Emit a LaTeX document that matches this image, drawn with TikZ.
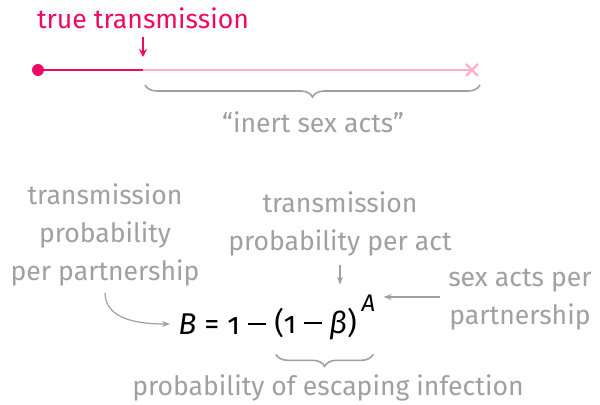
\documentclass[tikz,border=0pt]{standalone}
\usepackage{fontspec}
\setmainfont{Fira Sans}
\newfontfamily\eqfont[Numbers=OldStyle]{Fira Sans}
\usetikzlibrary{arrows.meta, calc, decorations.pathreplacing, positioning}
\definecolor{mypink}{RGB}{238, 10, 100}
\definecolor{mylightpink}{RGB}{255, 175, 200}
\definecolor{mygray}{RGB}{160, 160, 160}
\newcommand{\eqminus}{\hspace{0.25em}\raisebox{0.3em}{\rule{0.6em}{0.07em}}\hspace{0.25em}}

\tikzset{
  lbl/.style={mygray, font=\fontsize{13.3}{19}\selectfont, align=center, inner sep=0pt},
  conn/.style={mygray, line width=0.6pt, -{Stealth[length=4pt, width=3pt]}},
  brc/.style={mygray, line width=0.8pt, decorate, decoration={brace, mirror, amplitude=6pt}}
}

\begin{document}
\begin{tikzpicture}[x=0.5pt, y=-0.5pt]
\useasboundingbox (0,0) rectangle (600,405);
% Timeline
\node[mypink, font=\fontsize{13.3}{15}\selectfont, inner sep=0pt] (truetr) at (143,18) {true transmission};
\coordinate (start) at (38,70);
\coordinate (hit) at (143,70);
\coordinate (stop) at (472,70);
\draw[mylightpink, line width=1.3pt] (hit) -- (stop);
\draw[mypink, line width=1.3pt] (start) -- (hit);
\fill[mypink] (start) circle (3pt);
\draw[mylightpink, line width=1.1pt] ($(stop)+(-6,-6)$) -- ($(stop)+(6,6)$)
    ($(stop)+(-6,6)$) -- ($(stop)+(6,-6)$);
\draw[mypink, line width=0.8pt, -{Stealth[length=4pt, width=4pt]}] (truetr.south -| hit) ++(0,8) -- ($(hit)+(0,-13)$);
% Inert acts
\coordinate (inl) at (145,85);
\coordinate (inr) at (480,85);
\draw[brc] (inl) -- (inr);
\node[lbl] (inert) at (313,122) {“inert sex acts”};
% Formula
\node[inner sep=0pt, font=\eqfont\fontsize{15}{17}\selectfont, anchor=west] (eqB) at (178,324) {\textit{B} = 1\eqminus};
\node[inner sep=0pt, font=\eqfont\fontsize{15}{17}\selectfont, right=4pt of eqB] (eqpar) {(1\eqminus\textit{β})};
\node[inner sep=0pt, font=\eqfont\fontsize{12}{14}\selectfont, anchor=west] (eqA) at ($(eqpar.north east)+(4,-4)$) {\textit{A}};
\draw[brc] ($(eqpar.south west)+(2,14)$) -- ($(eqpar.south east)+(16,14)$) coordinate (brcend);
\node[lbl] (escape) at (328,388) {probability of escaping infection};
% Labels
\node[lbl] (perpart) at (105,235) {transmission\\probability\\per partnership};
\node[lbl] (peract) at (340,224) {transmission\\probability per act};
\node[lbl] (sexacts) at (520,300) {sex acts per\\partnership};
% Arrows
\draw[conn] (perpart.south) ++(0,6) to[out=-90, in=180] ($(eqB.west)+(-8,0)$);
\draw[conn] (peract.south) ++(0,8) -- ++(0,20);
\draw[conn] ($(sexacts.west)+(-8,-3)$) -- ($(eqA.east |- sexacts.west)+(8,-3)$);
\end{tikzpicture}
\end{document}
